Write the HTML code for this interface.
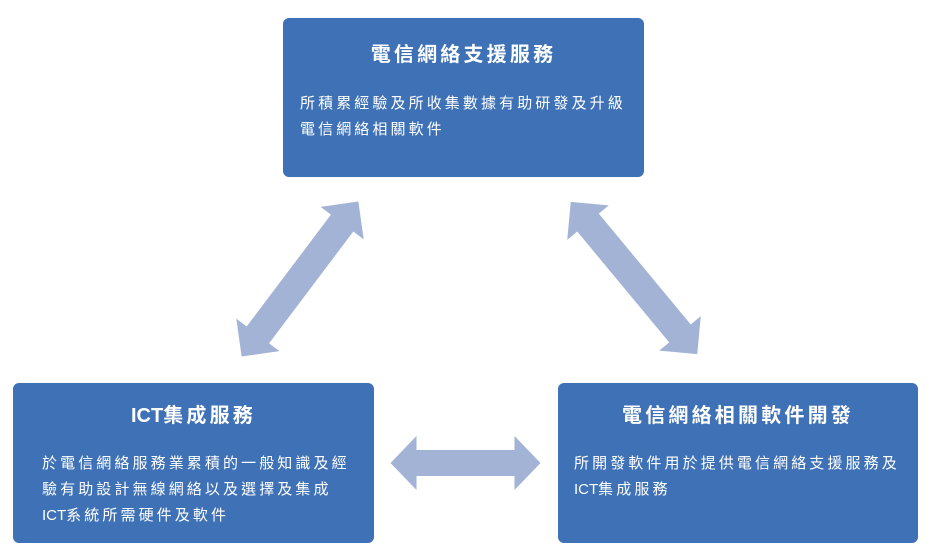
<!DOCTYPE html>
<html><head><meta charset="utf-8"><style>
body{margin:0;width:931px;height:559px;background:#fff;position:relative;overflow:hidden;font-family:"Liberation Sans","Noto Sans CJK TC",sans-serif;color:#fff}
.b{position:absolute;background:#3f71b6;border-radius:6px}
.t{position:absolute;left:0;right:0;text-align:center;font-weight:bold;font-size:20px;letter-spacing:3.2px}
.p{position:absolute;font-size:15px;line-height:26px;letter-spacing:3.1px;white-space:nowrap}
.i{letter-spacing:0}
</style></head><body>
<svg width="931" height="559" style="position:absolute;left:0;top:0">
<g fill="#a2b3d5">
<g transform="translate(300,279) rotate(-53)"><polygon points="-97,0 -70,-27 -70,-14 70,-14 70,-27 97,0 70,27 70,14 -70,14 -70,27"/></g>
<g transform="translate(634,278) rotate(50.3)"><polygon points="-99,0 -72,-27 -72,-14 72,-14 72,-27 99,0 72,27 72,14 -72,14 -72,27"/></g>
<g transform="translate(465.5,463)"><polygon points="-75,0 -49,-27 -49,-13 49,-13 49,-27 75,0 49,27 49,13 -49,13 -49,27"/></g>
</g></svg>
<div class="b" style="left:283px;top:18px;width:361px;height:159px">
<div class="t" style="top:20px">電信網絡支援服務</div>
<div class="p" style="left:17px;top:73px">所積累經驗及所收集數據有助研發及升級<br>電信網絡相關軟件</div>
</div>
<div class="b" style="left:13px;top:383px;width:361px;height:160px">
<div class="t" style="top:16px"><span class="i">ICT</span>集成服務</div>
<div class="p" style="left:29px;top:68px">於電信網絡服務業累積的一般知識及經<br>驗有助設計無線網絡以及選擇及集成<br><span class="i">ICT</span>系統所需硬件及軟件</div>
</div>
<div class="b" style="left:558px;top:383px;width:360px;height:160px">
<div class="t" style="top:16px">電信網絡相關軟件開發</div>
<div class="p" style="left:16px;top:68px">所開發軟件用於提供電信網絡支援服務及<br><span class="i">ICT</span>集成服務</div>
</div>
</body></html>
